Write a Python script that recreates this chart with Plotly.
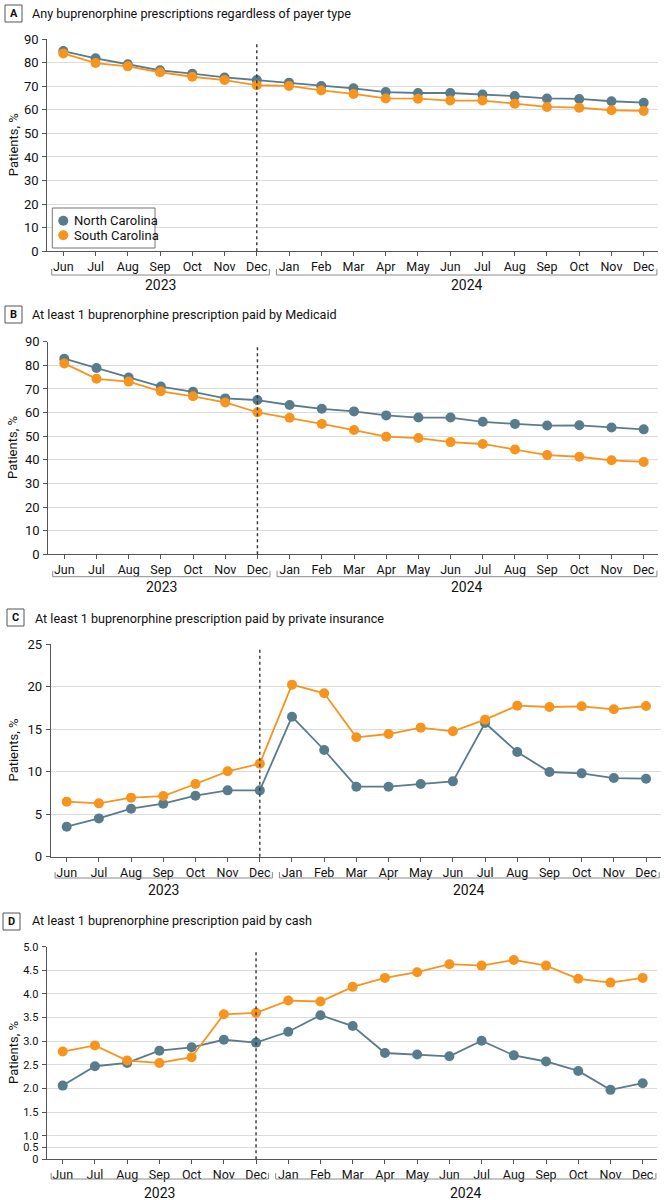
import plotly.graph_objects as go

# ---------------- data ----------------
months = ["Jun", "Jul", "Aug", "Sep", "Oct", "Nov", "Dec",
          "Jan", "Feb", "Mar", "Apr", "May", "Jun", "Jul", "Aug", "Sep", "Oct", "Nov", "Dec"]
years = ["2023"] * 7 + ["2024"] * 12
categories = [f"{m} {y}" for m, y in zip(months, years)]
year_labels = ["2023", "2024"]
series_names = ["North Carolina", "South Carolina"]

nc_any = [84.9, 81.8, 79.3, 76.7, 75.3, 73.7, 72.6, 71.5, 70.1, 69.1, 67.5, 67.1, 67.1, 66.5, 65.8, 64.8, 64.6, 63.6, 63.0]
sc_any = [83.9, 79.8, 78.4, 75.9, 74.0, 72.6, 70.4, 70.1, 68.2, 66.7, 64.8, 64.7, 63.9, 63.9, 62.6, 61.2, 60.9, 59.8, 59.5]

nc_medicaid = [82.8, 78.9, 74.8, 71.0, 68.8, 66.0, 65.3, 63.2, 61.6, 60.5, 58.8, 57.9, 57.9, 56.1, 55.2, 54.5, 54.6, 53.7, 52.9]
sc_medicaid = [80.8, 74.3, 73.1, 69.0, 66.9, 64.3, 60.1, 57.8, 55.2, 52.6, 49.8, 49.2, 47.5, 46.7, 44.4, 42.0, 41.3, 39.8, 39.1]

nc_private = [3.53, 4.51, 5.65, 6.24, 7.18, 7.81, 7.81, 16.48, 12.56, 8.24, 8.24, 8.56, 8.87, 15.74, 12.32, 9.97, 9.81, 9.26, 9.18]
sc_private = [6.48, 6.28, 6.95, 7.14, 8.56, 10.05, 10.95, 20.25, 19.23, 14.05, 14.44, 15.19, 14.76, 16.13, 17.78, 17.62, 17.70, 17.35, 17.74]

nc_cash = [2.06, 2.47, 2.54, 2.80, 2.87, 3.03, 2.97, 3.20, 3.55, 3.32, 2.75, 2.72, 2.68, 3.01, 2.70, 2.57, 2.37, 1.97, 2.11]
sc_cash = [2.78, 2.91, 2.59, 2.54, 2.66, 3.57, 3.60, 3.86, 3.84, 4.15, 4.34, 4.46, 4.63, 4.60, 4.72, 4.60, 4.32, 4.24, 4.34]

panel_letters = ["A", "B", "C", "D"]
panel_titles = [
    "Any buprenorphine prescriptions regardless of payer type",
    "At least 1 buprenorphine prescription paid by Medicaid",
    "At least 1 buprenorphine prescription paid by private insurance",
    "At least 1 buprenorphine prescription paid by cash",
]
y_title = "Patients, %"

# panel D y-axis: 0–1 segment drawn at half scale
cash_tick_values = [0, 0.5, 1.0, 1.5, 2.0, 2.5, 3.0, 3.5, 4.0, 4.5, 5.0]
cash_tick_text = ["0", "0.5", "1.0", "1.5", "2.0", "2.5", "3.0", "3.5", "4.0", "4.5", "5.0"]

# ---------------- styling ----------------
W, H = 664, 1200
NC_COLOR = "#587C8C"
SC_COLOR = "#F7941D"
FONT = "Roboto"
TXT = "#111111"
GRID = "#dcdcdc"
AXIS = "#555555"


def px_x(p):
    return p / W


def px_y(p):
    return 1 - p / H


def cash_pos(v):
    return v if v >= 1 else 0.5 + v * 0.5


panels = [
    dict(nc=nc_any, sc=sc_any, left=47.2, right=658.2, top=39.0, bottom=251.3,
         yrange=[0, 90], dtick=10, box=(5, 5), title_xy=(30, 13), brk=23.7, yr=33.7, tf=13),
    dict(nc=nc_medicaid, sc=sc_medicaid, left=48.2, right=658.2, top=341.7, bottom=554.3,
         yrange=[0, 90], dtick=10, box=(5, 306), title_xy=(30, 315), brk=22.4, yr=32.7, tf=13),
    dict(nc=nc_private, sc=sc_private, left=50.6, right=660.5, top=644.3, bottom=856.7,
         yrange=[0, 25], dtick=5, box=(7, 609), title_xy=(33, 618), brk=21.3, yr=33.3, tf=13),
    dict(nc=nc_cash, sc=sc_cash, left=46.6, right=657.2, top=946.7, bottom=1159.3,
         yrange=[0.5, 5.0], dtick=None, box=(3, 913), title_xy=(30, 920), brk=19.7, yr=33.7, tf=11),
]

fig = go.Figure()
shapes = []
annotations = []
dec_idx = categories.index("Dec 2023")

for i, p in enumerate(panels):
    n = "" if i == 0 else str(i + 1)
    xa, ya = "x" + n, "y" + n
    for name, vals, col in ((series_names[0], p["nc"], NC_COLOR), (series_names[1], p["sc"], SC_COLOR)):
        fig.add_trace(go.Scatter(
            x=categories, y=vals, mode="lines+markers", name=name, showlegend=False,
            line=dict(color=col, width=1.8), marker=dict(color=col, size=10),
            xaxis=xa, yaxis=ya, cliponaxis=False,
        ))

    xaxis = dict(
        domain=[px_x(p["left"]), px_x(p["right"])], anchor=ya, type="category",
        range=[-0.5, 18.45], tickmode="array", tickvals=categories, ticktext=months,
        showline=True, linecolor=AXIS, linewidth=1, ticks="outside", ticklen=4,
        tickcolor=AXIS, showgrid=False, zeroline=False, automargin=False,
        tickfont=dict(family=FONT, size=12.5, color=TXT),
    )
    yaxis = dict(
        domain=[px_y(p["bottom"]), px_y(p["top"])], anchor=xa, range=p["yrange"],
        showline=True, linecolor=AXIS, linewidth=1, ticks="outside", ticklen=4,
        tickcolor=AXIS, showgrid=True, gridcolor=GRID, gridwidth=1, zeroline=False,
        automargin=False,
        tickfont=dict(family=FONT, size=p["tf"], color=TXT), ticklabelstandoff=1,
    )
    if p["dtick"] is not None:
        yaxis.update(dtick=p["dtick"], tick0=0)
    else:
        yaxis.update(tickmode="array", tickvals=[cash_pos(v) for v in cash_tick_values],
                     ticktext=cash_tick_text)
    fig.update_layout(**{"xaxis" + n: xaxis, "yaxis" + n: yaxis})

    # dashed separator at Dec 2023
    shapes.append(dict(type="line", xref=xa, yref=ya + " domain", x0=dec_idx, x1=dec_idx,
                       y0=0, y1=0.985, line=dict(color="#333333", width=1.4, dash="3px,3px")))

    # year brackets
    yb = px_y(p["bottom"] + p["brk"])
    yt = px_y(p["bottom"] + p["brk"] - 6)
    for (a, b), label in zip(((-0.36, 6.39), (6.61, 18.41)), year_labels):
        for seg in ((a, yb, b, yb), (a, yb, a, yt), (b, yb, b, yt)):
            shapes.append(dict(type="line", xref=xa, yref="paper", x0=seg[0], y0=seg[1],
                               x1=seg[2], y1=seg[3], line=dict(color="#8a8a8a", width=1)))
        annotations.append(dict(text=label, xref=xa, yref="paper", x=(a + b) / 2,
                                y=px_y(p["bottom"] + p["yr"]), showarrow=False,
                                xanchor="center", yanchor="middle",
                                font=dict(family=FONT, size=14, color=TXT)))

    # panel letter box and title
    bx, by = p["box"]
    shapes.append(dict(type="rect", xref="paper", yref="paper", x0=px_x(bx), x1=px_x(bx + 17),
                       y0=px_y(by), y1=px_y(by + 17), line=dict(color="#555555", width=1),
                       fillcolor="white"))
    annotations.append(dict(text="<b>%s</b>" % panel_letters[i], xref="paper", yref="paper",
                            x=px_x(bx + 8.5), y=px_y(by + 8.5), showarrow=False,
                            xanchor="center", yanchor="middle",
                            font=dict(family=FONT, size=11, color=TXT)))
    tx, ty = p["title_xy"]
    annotations.append(dict(text=panel_titles[i], xref="paper", yref="paper", x=px_x(tx),
                            y=px_y(ty), showarrow=False, xanchor="left", yanchor="middle",
                            font=dict(family=FONT, size=12.6, color=TXT)))
    # y axis title
    annotations.append(dict(text=y_title, xref="paper", yref="paper", x=px_x(13),
                            y=px_y((p["top"] + p["bottom"]) / 2), showarrow=False,
                            textangle=-90, xanchor="center", yanchor="middle",
                            font=dict(family=FONT, size=13, color=TXT)))

# legend for panel A (compact box, marker-only symbols)
shapes.append(dict(type="rect", xref="paper", yref="paper", x0=px_x(52.3), x1=px_x(155),
                   y0=px_y(208), y1=px_y(248), line=dict(color="#777777", width=1),
                   fillcolor="white", layer="above"))
for k, (name, col) in enumerate(((series_names[0], NC_COLOR), (series_names[1], SC_COLOR))):
    cy = 220.7 + k * 14.5
    shapes.append(dict(type="circle", xref="paper", yref="paper", xsizemode="pixel",
                       ysizemode="pixel", xanchor=px_x(63.3), yanchor=px_y(cy),
                       x0=-5, x1=5, y0=-5, y1=5, fillcolor=col, line=dict(width=0),
                       layer="above"))
    annotations.append(dict(text=name, xref="paper", yref="paper", x=px_x(72), y=px_y(cy),
                            showarrow=False, xanchor="left", yanchor="middle",
                            font=dict(family=FONT, size=13, color=TXT)))

fig.update_layout(
    width=W, height=H, autosize=False,
    margin=dict(l=0, r=0, t=0, b=0, pad=0, autoexpand=False),
    paper_bgcolor="white", plot_bgcolor="white",
    font=dict(family=FONT, color=TXT),
    showlegend=False,
    shapes=shapes, annotations=annotations,
)

fig.write_html("out.html", config={"displayModeBar": False},
               post_script="document.body.style.margin='0';document.body.style.padding='0';")
